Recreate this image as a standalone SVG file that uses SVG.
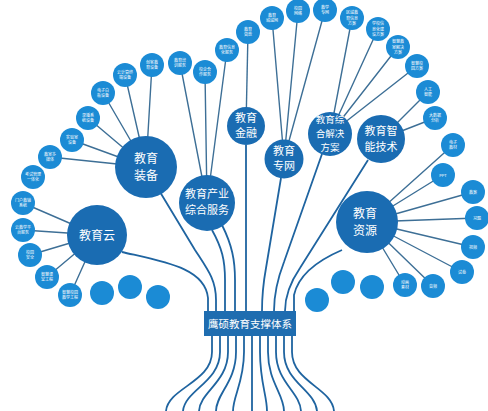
<svg xmlns="http://www.w3.org/2000/svg" width="488" height="411" viewBox="0 0 488 411">
<style>
.big{fill:#1a6cb2}
.sm{fill:#1b8bd5}
.bt{fill:#fff;font-family:"Noto Sans CJK SC",sans-serif;font-size:11px;text-anchor:middle}
.st{fill:#fff;font-family:"Noto Sans CJK SC",sans-serif;font-size:4px;text-anchor:middle}
.ln{stroke:#3d6f96;stroke-width:1.4;fill:none}
.tr{stroke:#1f64a0;stroke-width:1.8;fill:none}
</style>
<rect width="488" height="411" fill="#fff"/>
<g id="connectors">
<path class="ln" d="M23 203L97 235M23 230L97 235M30 255L97 235M47 277L97 235M70 295L97 235"/>
<path class="ln" d="M50 157L146 167M72 140L146 167M88 118L146 167M103 93L146 167M125 75L146 167M152 65L146 167"/>
<path class="ln" d="M180 63L207 203M205 72L207 203M227 50L207 203"/>
<path class="ln" d="M248 32L246 126"/>
<path class="ln" d="M272 18L284 159M298 11L284 159M325 10L284 159"/>
<path class="ln" d="M352 18L330 134M378 29L330 134M398 47L330 134M417 66L330 134"/>
<path class="ln" d="M428 92L381 139M435 118L381 139"/>
<path class="ln" d="M453 145L367 222M443 175L367 222M473 192L367 222M477 218L367 222M473 247L367 222M462 272L367 222M433 286L367 222M405 285L367 222"/>
<path class="tr" d="M122 252C165 262 205 268 208 298L208 311"/>
<path class="tr" d="M160 192L195 250C208 270 216 280 216 300L216 311"/>
<path class="tr" d="M212 230C222 248 225 260 225 280L225 311"/>
<path class="tr" d="M222 225C232 245 235 260 235 280L235 311"/>
<path class="tr" d="M246 145L246 311"/>
<path class="tr" d="M281 178L266 268Q262 290 262 311"/>
<path class="tr" d="M322 154L284 262Q274 288 274 311"/>
<path class="tr" d="M368 160L300 268Q285 290 285 311"/>
<path class="tr" d="M342 250Q300 268 294 295L294 311"/>
<path class="tr" d="M212 336L212 352C212 382 168 388 166 411"/>
<path class="tr" d="M220 336L220 352C220 382 185 390 183 411"/>
<path class="tr" d="M228 336L228 352C228 382 200 392 199 411"/>
<path class="tr" d="M236 336L236 352C236 382 216 394 216 411"/>
<path class="tr" d="M244 336L244 352C244 382 233 396 233 411"/>
<path class="tr" d="M252 336L252 411"/>
<path class="tr" d="M260 336L260 352C260 382 267 396 267 411"/>
<path class="tr" d="M268 336L268 352C268 382 284 394 284 411"/>
<path class="tr" d="M276 336L276 352C276 382 300 392 301 411"/>
<path class="tr" d="M284 336L284 352C284 382 315 390 317 411"/>
<path class="tr" d="M292 336L292 352C292 382 332 388 334 411"/>
</g>
<g id="hub">
<rect x="204" y="311" width="92" height="25" fill="#1f6db0"/>
<text x="250" y="327.5" style="fill:#fff;font-family:'Noto Sans CJK SC',sans-serif;font-size:10.5px;text-anchor:middle">鹰硕教育支撑体系</text>
</g>
<g id="n-cloud"><circle class="big" cx="97" cy="235" r="30"/><text class="bt" x="97" y="239.5" style="font-size:12px">教育云</text></g>
<g id="n-equip"><circle class="big" cx="146" cy="167" r="31"/><text class="bt" x="146" y="163" style="font-size:12px">教育</text><text class="bt" x="146" y="180" style="font-size:12px">装备</text></g>
<g id="n-industry"><circle class="big" cx="207" cy="203" r="28"/><text class="bt" x="207" y="198">教育产业</text><text class="bt" x="207" y="214">综合服务</text></g>
<g id="n-finance"><circle class="big" cx="246" cy="126" r="19"/><text class="bt" x="246" y="121.5">教育</text><text class="bt" x="246" y="137">金融</text></g>
<g id="n-net"><circle class="big" cx="284" cy="159" r="19.5"/><text class="bt" x="284" y="154.5">教育</text><text class="bt" x="284" y="170">专网</text></g>
<g id="n-solution"><circle class="big" cx="330" cy="134" r="22"/><text class="bt" x="330" y="123" style="font-size:9.5px">教育综</text><text class="bt" x="330" y="137" style="font-size:9.5px">合解决</text><text class="bt" x="330" y="151" style="font-size:9.5px">方案</text></g>
<g id="n-ai"><circle class="big" cx="381" cy="139" r="24"/><text class="bt" x="381" y="134.5">教育智</text><text class="bt" x="381" y="150.5">能技术</text></g>
<g id="n-res"><circle class="big" cx="367" cy="222" r="31"/><text class="bt" x="365" y="218" style="font-size:12px">教育</text><text class="bt" x="365" y="235" style="font-size:12px">资源</text></g>
<g id="small-nodes">
<g id="s1"><circle class="sm" cx="23" cy="203" r="12"/><text class="st" x="23" y="201.5">门户教辅</text><text class="st" x="23" y="207">系统</text></g>
<g id="s2"><circle class="sm" cx="23" cy="230" r="12"/><text class="st" x="23" y="228.5">云教学平</text><text class="st" x="23" y="234">台服务</text></g>
<g id="s3"><circle class="sm" cx="30" cy="255" r="12"/><text class="st" x="30" y="253.5">校园</text><text class="st" x="30" y="259">安全</text></g>
<g id="s4"><circle class="sm" cx="47" cy="277" r="12"/><text class="st" x="47" y="275.5">智慧课</text><text class="st" x="47" y="281">堂工程</text></g>
<g id="s5"><circle class="sm" cx="70" cy="295" r="12"/><text class="st" x="70" y="293.5">智慧校园</text><text class="st" x="70" y="299">教学工程</text></g>
<g id="s6"><circle class="sm" cx="33" cy="177" r="12"/><text class="st" x="33" y="175.5">考试管理</text><text class="st" x="33" y="181">一体化</text></g>
<g id="s7"><circle class="sm" cx="50" cy="157" r="12"/><text class="st" x="50" y="155.5">教室多</text><text class="st" x="50" y="161">媒体</text></g>
<g id="s8"><circle class="sm" cx="72" cy="140" r="12"/><text class="st" x="72" y="138.5">实验室</text><text class="st" x="72" y="144">设备</text></g>
<g id="s9"><circle class="sm" cx="88" cy="118" r="12"/><text class="st" x="88" y="116.5">录播系</text><text class="st" x="88" y="122">统设备</text></g>
<g id="s10"><circle class="sm" cx="103" cy="93" r="12"/><text class="st" x="103" y="91.5">电子白</text><text class="st" x="103" y="97">板设备</text></g>
<g id="s11"><circle class="sm" cx="125" cy="75" r="12"/><text class="st" x="125" y="73.5">云计算终</text><text class="st" x="125" y="79">端设备</text></g>
<g id="s12"><circle class="sm" cx="152" cy="65" r="12"/><text class="st" x="152" y="63.5">创客教</text><text class="st" x="152" y="69">育设备</text></g>
<g id="s13"><circle class="sm" cx="180" cy="63" r="12"/><text class="st" x="180" y="61.5">教育培</text><text class="st" x="180" y="67">训服务</text></g>
<g id="s14"><circle class="sm" cx="205" cy="72" r="12"/><text class="st" x="205" y="70.5">校企合</text><text class="st" x="205" y="76">作服务</text></g>
<g id="s15"><circle class="sm" cx="227" cy="50" r="12"/><text class="st" x="227" y="48.5">教育信息</text><text class="st" x="227" y="54">化服务</text></g>
<g id="s16"><circle class="sm" cx="248" cy="32" r="12"/><text class="st" x="248" y="30.5">教育</text><text class="st" x="248" y="36">贷款</text></g>
<g id="s17"><circle class="sm" cx="272" cy="18" r="12"/><text class="st" x="272" y="16.5">教育</text><text class="st" x="272" y="22">城域网</text></g>
<g id="s18"><circle class="sm" cx="298" cy="11" r="12"/><text class="st" x="298" y="9.5">校园</text><text class="st" x="298" y="15">网络</text></g>
<g id="s19"><circle class="sm" cx="325" cy="10" r="12"/><text class="st" x="325" y="8.5">教学</text><text class="st" x="325" y="14">专网</text></g>
<g id="s20"><circle class="sm" cx="352" cy="18" r="12"/><text class="st" x="352" y="14">区域教</text><text class="st" x="352" y="19.5">育信息</text><text class="st" x="352" y="25">方案</text></g>
<g id="s21"><circle class="sm" cx="378" cy="29" r="12"/><text class="st" x="378" y="25">学校信</text><text class="st" x="378" y="30.5">息化建</text><text class="st" x="378" y="36">设方案</text></g>
<g id="s22"><circle class="sm" cx="398" cy="47" r="12"/><text class="st" x="398" y="43">智慧教</text><text class="st" x="398" y="48.5">室解决</text><text class="st" x="398" y="54">方案</text></g>
<g id="s23"><circle class="sm" cx="417" cy="66" r="12"/><text class="st" x="417" y="64.5">智慧校</text><text class="st" x="417" y="70">园方案</text></g>
<g id="s24"><circle class="sm" cx="428" cy="92" r="12"/><text class="st" x="428" y="90.5">人工</text><text class="st" x="428" y="96">智能</text></g>
<g id="s25"><circle class="sm" cx="435" cy="118" r="12"/><text class="st" x="435" y="116.5">大数据</text><text class="st" x="435" y="122">分析</text></g>
<g id="s26"><circle class="sm" cx="453" cy="145" r="12"/><text class="st" x="453" y="143.5">电子</text><text class="st" x="453" y="149">教材</text></g>
<g id="s27"><circle class="sm" cx="443" cy="175" r="12"/><text class="st" x="443" y="176.5">PPT</text></g>
<g id="s28"><circle class="sm" cx="473" cy="192" r="12"/><text class="st" x="473" y="193.5">教案</text></g>
<g id="s29"><circle class="sm" cx="477" cy="218" r="12"/><text class="st" x="477" y="219.5">习题</text></g>
<g id="s30"><circle class="sm" cx="473" cy="247" r="12"/><text class="st" x="473" y="248.5">视频</text></g>
<g id="s31"><circle class="sm" cx="462" cy="272" r="12"/><text class="st" x="462" y="273.5">试卷</text></g>
<g id="s32"><circle class="sm" cx="433" cy="286" r="12"/><text class="st" x="433" y="287.5">音频</text></g>
<g id="s33"><circle class="sm" cx="405" cy="285" r="12"/><text class="st" x="405" y="283.5">动画</text><text class="st" x="405" y="289">素材</text></g>
<g id="p1"><circle class="sm" cx="102" cy="293" r="12"/></g>
<g id="p2"><circle class="sm" cx="130" cy="287" r="12"/></g>
<g id="p3"><circle class="sm" cx="158" cy="297" r="12"/></g>
<g id="p4"><circle class="sm" cx="317" cy="300" r="12"/></g>
<g id="p5"><circle class="sm" cx="343" cy="282" r="12"/></g>
<g id="p6"><circle class="sm" cx="372" cy="287" r="12"/></g>
</g>
</svg>
